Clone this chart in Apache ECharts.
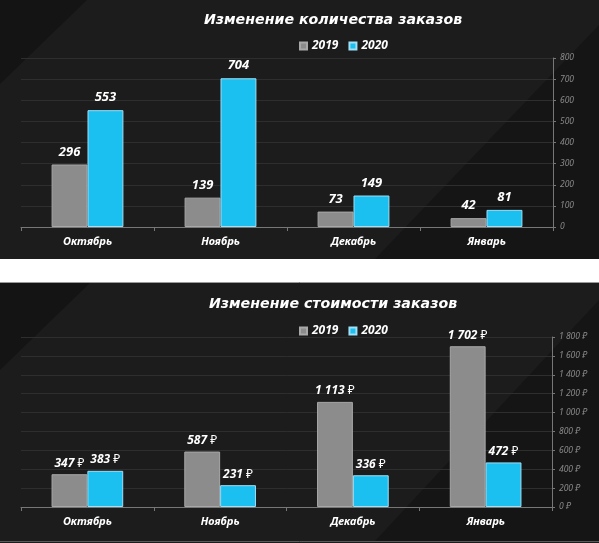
<!DOCTYPE html>
<html>
<head>
<meta charset="utf-8">
<script src="https://cdn.jsdelivr.net/npm/echarts@6/dist/echarts.min.js"></script>
<style>
    html, body { margin: 0; padding: 0; background: #fff; }
    #chart { width: 599px; height: 543px; }
</style>
</head>
<body>
<div id="chart"></div>
<script>
// данные
var months = ['Октябрь', 'Ноябрь', 'Декабрь', 'Январь'];
var seriesNames = ['2019', '2020'];
var orders2019 = [296, 139, 73, 42];
var orders2020 = [553, 704, 149, 81];
var cost2019 = [347, 587, 1113, 1702];
var cost2020 = [383, 231, 336, 472];

var FONT = '"Noto Sans", "DejaVu Sans", sans-serif';
var TITLE_FONT = '"DejaVu Sans", "Noto Sans", sans-serif';
var GRAY = '#8c8c8c';
var BLUE = '#1bbff0';

function fmt(v) {
    return String(v).replace(/\B(?=(\d{3})+(?!\d))/g, ' ');
}

function RenderOrders() {
    var dom = document.getElementById('chart');
    var chart = echarts.init(dom);

    var barLabel = {
        show: true,
        position: 'top',
        distance: 6,
        color: '#fff',
        fontFamily: FONT,
        fontSize: 13,
        fontWeight: 'bold',
        fontStyle: 'italic'
    };
    var costLabel = {
        show: true,
        position: 'top',
        distance: 5,
        formatter: function (p) {
            return '{n|' + fmt(p.value) + '}{r| ₽}';
        },
        rich: {
            n: { color: '#fff', fontFamily: FONT, fontSize: 12, fontWeight: 'bold', fontStyle: 'italic' },
            r: { color: '#fff', fontFamily: FONT, fontSize: 12 }
        }
    };

    function xAxisFor(gridIndex) {
        return {
            type: 'category',
            gridIndex: gridIndex,
            data: months,
            axisLine: { lineStyle: { color: '#777' } },
            axisTick: { show: true, length: 4, lineStyle: { color: '#777' } },
            axisLabel: {
                color: '#fff', fontFamily: FONT, fontSize: 11,
                fontWeight: 'bold', fontStyle: 'italic', margin: 9
            }
        };
    }

    function yAxisFor(gridIndex, max, interval, rub) {
        return {
            type: 'value',
            gridIndex: gridIndex,
            position: 'right',
            min: 0,
            max: max,
            interval: interval,
            axisLine: { show: true, lineStyle: { color: '#777' } },
            axisTick: { show: true, length: 3, lineStyle: { color: '#777' } },
            splitLine: { lineStyle: { color: '#2e2e2e' } },
            axisLabel: {
                color: '#8a8a8a', fontFamily: FONT, fontSize: 8.5,
                fontStyle: 'italic', margin: 7,
                formatter: function (v) { return rub ? fmt(v) + ' ₽' : v; }
            }
        };
    }

    function bar(name, data, color, border, axis, label) {
        return {
            name: name,
            type: 'bar',
            xAxisIndex: axis,
            yAxisIndex: axis,
            data: data,
            barGap: '0%',
            barCategoryGap: '46%',
            itemStyle: { color: color, borderColor: border, borderWidth: 1 },
            label: label
        };
    }

    var titleStyle = {
        color: '#fff', fontFamily: TITLE_FONT, fontSize: 14.2,
        fontWeight: 'bold', fontStyle: 'italic'
    };
    var legendText = {
        color: '#fff', fontFamily: FONT, fontSize: 12,
        fontWeight: 'bold', fontStyle: 'italic'
    };

    var option = {
        backgroundColor: '#fff',
        animation: false,
        graphic: [
            { type: 'rect', z: -100, shape: { x: 0, y: 0, width: 599, height: 259 }, style: { fill: '#1c1c1c' } },
            { type: 'polygon', z: -99, shape: { points: [[0, 0], [87, 0], [0, 84]] }, style: { fill: '#141414' } },
            { type: 'polygon', z: -99, shape: { points: [[599, 25], [599, 259], [375, 259]] }, style: { fill: '#151515' } },
            { type: 'rect', z: -100, shape: { x: 0, y: 282, width: 599, height: 261 }, style: { fill: '#1c1c1c' } },
            { type: 'polygon', z: -99, shape: { points: [[0, 283], [90, 283], [0, 370]] }, style: { fill: '#141414' } },
            { type: 'polygon', z: -99, shape: { points: [[599, 300], [599, 541], [375, 541]] }, style: { fill: '#151515' } },
            { type: 'line', z: -98, shape: { x1: 0, y1: 282.5, x2: 599, y2: 282.5 }, style: { stroke: '#9a9a9a', lineWidth: 1 } },
            { type: 'line', z: -98, shape: { x1: 0, y1: 541.5, x2: 599, y2: 541.5 }, style: { stroke: '#5a5a5a', lineWidth: 1 } }
        ],
        title: [
            { text: 'Изменение количества заказов', left: 328, top: 8, textAlign: 'center', textStyle: titleStyle },
            { text: 'Изменение стоимости заказов', left: 328, top: 292, textAlign: 'center', textStyle: titleStyle }
        ],
        legend: [
            {
                data: seriesNames, left: 294, top: 35, icon: 'rect',
                itemWidth: 7, itemHeight: 7, itemGap: 10, textStyle: legendText
            },
            {
                data: seriesNames, left: 294, top: 320, icon: 'rect',
                itemWidth: 7, itemHeight: 7, itemGap: 10, textStyle: legendText
            }
        ],
        grid: [
            { left: 21, right: 46, top: 58, height: 169 },
            { left: 21, right: 47, top: 337, height: 170 }
        ],
        xAxis: [xAxisFor(0), xAxisFor(1)],
        yAxis: [yAxisFor(0, 800, 100, false), yAxisFor(1, 1800, 200, true)],
        series: [
            bar('2019', orders2019, GRAY, '#a8a8a8', 0, barLabel),
            bar('2020', orders2020, BLUE, '#9fe0f7', 0, barLabel),
            bar('2019', cost2019, GRAY, '#a8a8a8', 1, costLabel),
            bar('2020', cost2020, BLUE, '#9fe0f7', 1, costLabel)
        ]
    };

    if (option && typeof option === 'object') {
        chart.setOption(option);
    }
}

RenderOrders();
</script>
</body>
</html>
